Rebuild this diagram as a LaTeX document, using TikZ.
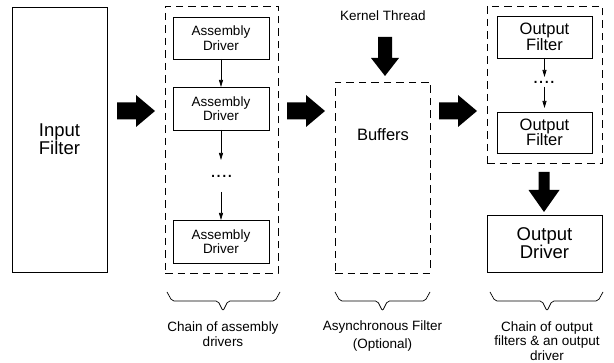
\documentclass[tikz,border=0pt]{standalone}
\usepackage{fontspec}
\setmainfont{Liberation Sans}
\usetikzlibrary{arrows.meta}
\begin{document}
\begin{tikzpicture}[x=1pt,y=-1pt,
  box/.style={draw,line width=0.8pt,minimum width=#1},
  dbox/.style={draw,line width=0.8pt,dash pattern=on 7.5pt off 5pt},
  small/.style={font=\fontsize{13.5}{14.5}\selectfont,align=center},
  big/.style={font=\fontsize{18.5}{17}\selectfont,align=center},
  mid/.style={font=\fontsize{16.5}{15.5}\selectfont,align=center},
  dotsty/.style={font=\fontsize{20}{20}\selectfont},
  thin/.style={line width=0.7pt,-{Triangle[length=7pt,width=4pt]}},
  brace/.style={line width=0.7pt,rounded corners=2pt},
  inner sep=0pt, outer sep=0pt]
\useasboundingbox (0,0) rectangle (614,363);
\tikzset{
  pics/rblock/.style={code={\fill (0,-8.5) -- (19,-8.5) -- (19,-16) -- (38,0) -- (19,16) -- (19,8.5) -- (0,8.5) -- cycle;}},
}
% input filter
\node[box=95pt,minimum height=265pt,big] (inf) at (59.5,139.5) {Input\\Filter};
% chain of assembly drivers
\node[dbox,minimum width=113pt,minimum height=267pt] (ch1) at (221.5,139.5) {};
\node[box=96pt,minimum height=42pt,small] (ad1) at (221,38) {Assembly\\Driver};
\node[box=96pt,minimum height=43pt,small] (ad2) at (221,108.5) {Assembly\\Driver};
\node[dotsty] (dots1) at (221.5,176) {....};
\node[box=96pt,minimum height=43pt,small] (ad3) at (221,241.5) {Assembly\\Driver};
\coordinate (a2end) at (221,160);
\coordinate (a3start) at (221,192);
\draw[thin] (ad1.south) -- (ad2.north);
\draw[thin] (ad2.south) -- (a2end);
\draw[thin] (a3start) -- (ad3.north);
% buffers
\node[dbox,minimum width=95pt,minimum height=191pt] (buf) at (382.5,177.5) {};
\node[mid] (buft) at (383,135) {Buffers};
\node[small] (kt) at (383,16) {Kernel Thread};
\fill (378,37) -- (392,37) -- (392,58) -- (399,58) -- (385,76) -- (371,58) -- (378,58) -- cycle;
% output filters
\node[dbox,minimum width=115pt,minimum height=157pt] (ch3) at (544.5,84.5) {};
\node[box=95pt,minimum height=42pt,mid] (of1) at (544.5,37) {Output\\Filter};
\node[dotsty] (dots2) at (544,82) {....};
\node[box=95pt,minimum height=41pt,mid] (of2) at (544.5,132.5) {Output\\Filter};
\coordinate (o1end) at (544.5,77);
\coordinate (o2start) at (544.5,87);
\coordinate (o2end) at (544.5,108);
\draw[thin] (of1.south) -- (o1end);
\draw[thin] (o2start) -- (o2end);
\node[box=115pt,minimum height=57pt,big] (od) at (544.5,243.5) {Output\\Driver};
\fill (538.5,172) -- (549.5,172) -- (549.5,190) -- (559.5,190) -- (544,212) -- (528.5,190) -- (538.5,190) -- cycle;
% block arrows
\pic at (117,111) {rblock};
\pic at (287,111) {rblock};
\pic at (439,111) {rblock};
% braces
\draw[brace] (167,292) -- (172,301) -- (218,301) -- (223,311) -- (228,301) -- (275,301) -- (280,292);
\draw[brace] (335,292) -- (340,301) -- (377.5,301) -- (382.5,311) -- (387.5,301) -- (425,301) -- (430,292);
\draw[brace] (490,292) -- (495,301) -- (542,301) -- (547,311) -- (552,301) -- (598,301) -- (603,292);
% labels
\node[small] (l1) at (223,334) {Chain of assembly\\drivers};
\node[small] (l2) at (382.5,336) {Asynchronous Filter\\[4pt](Optional)};
\node[small] (l3) at (547,341) {Chain of output\\filters \& an output\\driver};
\end{tikzpicture}
\end{document}
